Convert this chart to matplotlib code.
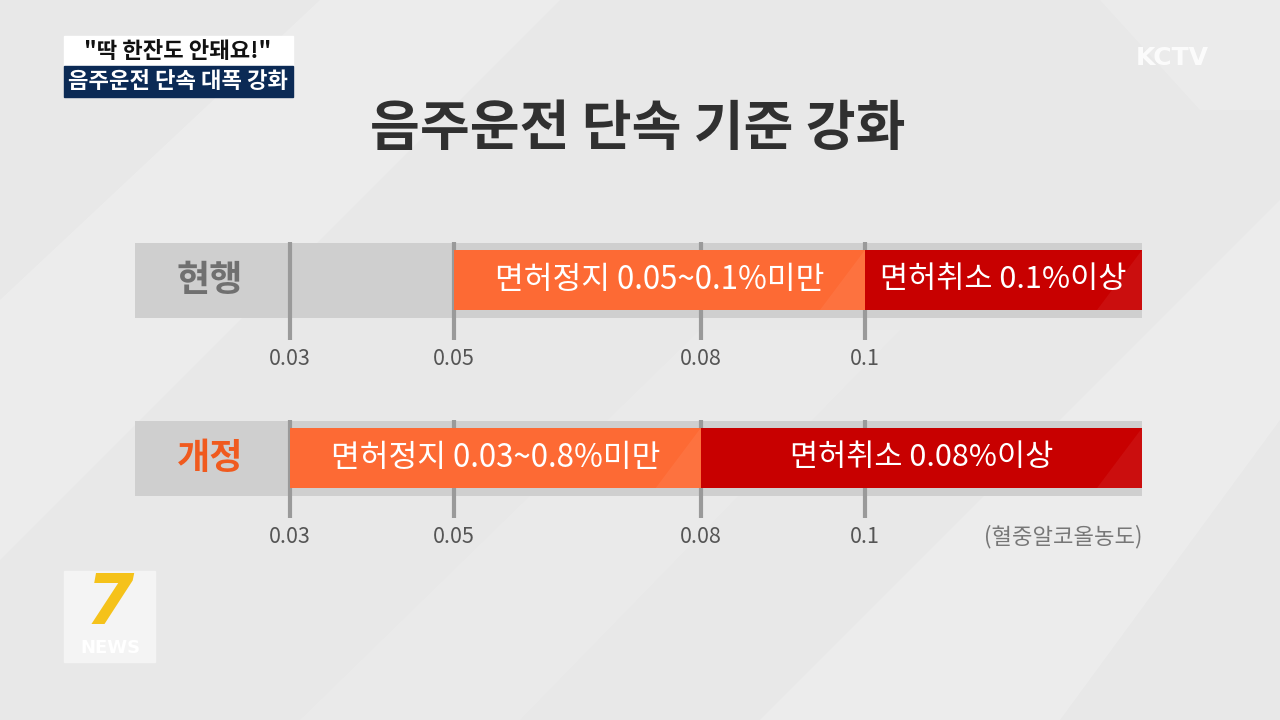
import numpy as np
import matplotlib.pyplot as plt
from matplotlib.patches import Rectangle, Polygon

plt.rcParams['font.family'] = ['Noto Sans CJK KR', 'DejaVu Sans']

# 데이터
rows = ['현행', '개정']
stop_start = [0.05, 0.03]
stop_end = [0.1, 0.08]
revoke_start = [0.1, 0.08]
stop_text = ['면허정지 0.05~0.1%미만', '면허정지 0.03~0.8%미만']
revoke_text = ['면허취소 0.1%이상', '면허취소 0.08%이상']
ticks = [0.03, 0.05, 0.08, 0.1]
tick_labels = ['0.03', '0.05', '0.08', '0.1']

title = '음주운전 단속 기준 강화'
unit = '(혈중알코올농도)'
cap1 = '"딱 한잔도 안돼요!"'
cap2 = '음주운전 단속 대폭 강화'

# 레이아웃 (x는 농도 단위, y는 픽셀)
ppu = 8214.0           # px per unit
x0 = 43.6              # px of 0.0
band_start = (135 - x0) / ppu
band_end = (1142 - x0) / ppu
row_y = [280, 458]
row_lab_col = ['#707070', '#f05a1e']
orange = '#fd6a34'
red = '#c80000'
band_col = '#cfcfcf'
tick_col = '#9a9a9a'

fig = plt.figure(figsize=(12.8, 7.2), dpi=100)
fig.patch.set_facecolor('#e8e8e8')

# 배경 사선 무늬
bg = fig.add_axes([0, 0, 1, 1])
bg.set_xlim(0, 1280)
bg.set_ylim(720, 0)
bg.axis('off')
for pts, a in [([(0, 300), (320, 0), (560, 0), (0, 560)], 0.2),
               ([(760, 720), (1280, 200), (1280, 420), (1060, 720)], 0.2),
               ([(1100, 0), (1280, 0), (1280, 110), (1200, 110)], 0.15),
               ([(300, 720), (700, 330), (900, 330), (520, 720)], 0.1)]:
    bg.add_patch(Polygon(pts, closed=True, color='white', alpha=a, lw=0))

ax = fig.add_axes([0, 0, 1, 1])
ax.set_xlim(-x0 / ppu, (1280 - x0) / ppu)
ax.set_ylim(720, 0)
ax.axis('off')

for i, r in enumerate(rows):
    y = row_y[i]
    ax.barh(y, band_end - band_start, left=band_start, height=75,
            color=band_col, zorder=1)
    ax.vlines(ticks, y - 38, y + 60, color=tick_col, lw=3, zorder=2)
    ax.barh(y, stop_end[i] - stop_start[i], left=stop_start[i], height=60,
            color=orange, zorder=3)
    ax.barh(y, band_end - revoke_start[i], left=revoke_start[i], height=60,
            color=red, zorder=3)
    # 오른쪽 끝 하이라이트
    for xr in [stop_end[i], band_end]:
        ax.add_patch(Polygon([(xr - 45 / ppu, y + 30), (xr, y - 30), (xr, y + 30)],
                             closed=True, color='white', alpha=0.06, lw=0, zorder=4))
    ax.text((stop_start[i] + stop_end[i]) / 2, y, stop_text[i], color='white',
            fontsize=22.5, ha='center', va='center', zorder=5)
    ax.text((revoke_start[i] + band_end) / 2, y, revoke_text[i], color='white',
            fontsize=22, ha='center', va='center', zorder=5)
    ax.text((210 - x0) / ppu, y, r, color=row_lab_col[i], fontsize=26,
            fontweight='bold', ha='center', va='center', zorder=5)
    for t, tl in zip(ticks, tick_labels):
        ax.text(t, y + 79, tl, color='#555555', fontsize=15.5, ha='center',
                va='center', zorder=5)

ax.text(band_end, row_y[1] + 79, unit, color='#777777', fontsize=16,
        ha='right', va='center')
ax.text((638 - x0) / ppu, 130, title, color='#303030', fontsize=39,
        fontweight='bold', ha='center', va='center')

# 자막 박스
bg.add_patch(Rectangle((64, 36), 229, 30, color='white', zorder=5))
bg.add_patch(Rectangle((64, 66), 229, 31, color='#0b2a55', zorder=5))
bg.text(178, 51, cap1, color='#111111', fontsize=16, fontweight='bold',
        ha='center', va='center', zorder=6)
bg.text(178, 81, cap2, color='white', fontsize=16, fontweight='bold',
        ha='center', va='center', zorder=6)

# 로고
bg.text(1172, 58, 'KCTV', color='white', alpha=0.85, fontsize=18,
        fontweight='bold', family='DejaVu Sans', ha='center', va='center')
bg.add_patch(Rectangle((64, 571), 91, 91, color='#f4f4f4', zorder=5))
bg.text(110, 605, '7', color='#f5c21a', fontsize=50, fontweight='bold',
        style='italic', family='DejaVu Sans', ha='center', va='center', zorder=6)
bg.text(110, 648, 'NEWS', color='white', fontsize=13, fontweight='bold',
        family='DejaVu Sans', ha='center', va='center', zorder=6)

fig.savefig('out.png', dpi=100)
